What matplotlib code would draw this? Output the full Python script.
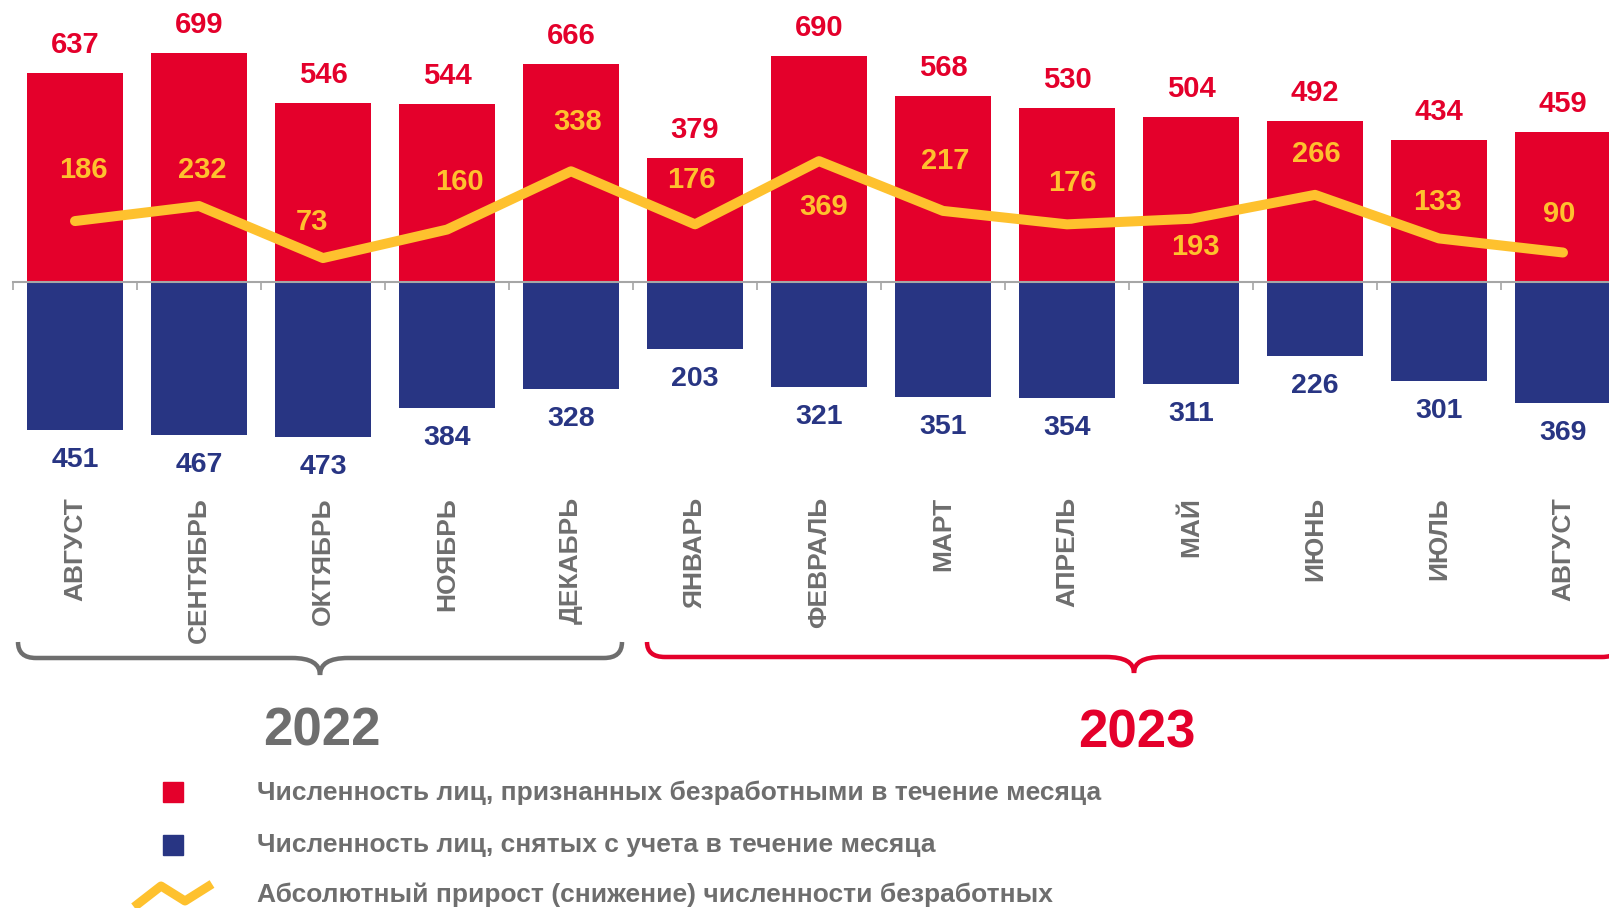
import numpy as np
from matplotlib import pyplot as plt
from matplotlib.path import Path
from matplotlib.patches import PathPatch, Rectangle

plt.rcParams['font.family'] = ['Liberation Sans', 'DejaVu Sans']
plt.rcParams['font.weight'] = 'bold'

# данные
months = ['АВГУСТ', 'СЕНТЯБРЬ', 'ОКТЯБРЬ', 'НОЯБРЬ', 'ДЕКАБРЬ', 'ЯНВАРЬ', 'ФЕВРАЛЬ',
          'МАРТ', 'АПРЕЛЬ', 'МАЙ', 'ИЮНЬ', 'ИЮЛЬ', 'АВГУСТ']
recognized = [637, 699, 546, 544, 666, 379, 690, 568, 530, 504, 492, 434, 459]
removed = [451, 467, 473, 384, 328, 203, 321, 351, 354, 311, 226, 301, 369]
growth = [186, 232, 73, 160, 338, 176, 369, 217, 176, 193, 266, 133, 90]

# смещения подписей прироста (пиксели)
growth_offsets = [(8, 51), (3, 36), (-11, 36), (12, 48), (7, 49), (-4, 44), (5, -46),
                  (2, 50), (5, 41), (4, -28), (1, 41), (-2, 36), (-4, 39)]

RED = '#E4002B'
BLUE = '#283583'
YELLOW = '#FEC12E'
GRAY = '#6E6E6E'

W, H, DPI = 1609, 908, 100
PX = 72 / DPI  # пиксели -> пункты

fig = plt.figure(figsize=(W / DPI, H / DPI), dpi=DPI)

# основная область
x0_px, zero_px, step_px, scale = 13, 282, 124, 0.3276
ax = fig.add_axes([x0_px / W, 0, 1 - x0_px / W, 1])
ax.set_xlim(-0.5, -0.5 + (W - x0_px) / step_px)
ax.set_ylim(-(H - zero_px) / scale, zero_px / scale)

x = np.arange(len(months))
ax.bar(x, recognized, width=0.77, color=RED, zorder=2)
ax.bar(x, [-v for v in removed], width=0.77, color=BLUE, zorder=2)
ax.plot(x, growth, color=YELLOW, lw=10 * PX, solid_capstyle='round', zorder=3)

for i in range(len(months)):
    ax.annotate(str(recognized[i]), (x[i], recognized[i]), xytext=(0, 28 * PX),
                textcoords='offset points', ha='center', va='center',
                color=RED, fontsize=21, fontweight='bold')
    ax.annotate(str(removed[i]), (x[i], -removed[i]), xytext=(0, -30 * PX),
                textcoords='offset points', ha='center', va='center',
                color=BLUE, fontsize=20.5, fontweight='bold')
    dx, dy = growth_offsets[i]
    ax.annotate(str(growth[i]), (x[i], growth[i]), xytext=(dx * PX, dy * PX),
                textcoords='offset points', ha='center', va='center',
                color=YELLOW, fontsize=21, fontweight='bold', zorder=4)

for s in ['top', 'left', 'right']:
    ax.spines[s].set_visible(False)
ax.spines['bottom'].set_position(('data', 0))
ax.spines['bottom'].set_color('#A6A6A6')
ax.spines['bottom'].set_linewidth(1.5)
ax.set_yticks([])
ax.set_xticks(x)
ax.set_xticklabels(months, rotation=90, color=GRAY, fontsize=19, fontweight='bold')
ax.set_xticks(np.arange(-0.5, len(months), 1), minor=True)
ax.tick_params(axis='x', which='major', length=0, pad=(497 - zero_px) * PX)
ax.tick_params(axis='x', which='minor', length=8 * PX, width=1.2, color='#A6A6A6')
ax.set_xlim(-0.5, -0.5 + (W - x0_px) / step_px)
ax.patch.set_visible(False)

# слой для скобок и легенды (координаты в пикселях)
ov = fig.add_axes([0, 0, 1, 1], zorder=-1)
ov.set_xlim(0, W)
ov.set_ylim(H, 0)
ov.axis('off')


def brace(xl, xr, xt, ytop, ymid, ytip, color, r=18, rt=28):
    verts = [(xl, ytop), (xl, ymid), (xl + r, ymid),
             (xt - rt, ymid), (xt, ymid), (xt, ytip),
             (xt, ymid), (xt + rt, ymid),
             (xr - r, ymid), (xr, ymid), (xr, ytop)]
    codes = [Path.MOVETO, Path.CURVE3, Path.CURVE3,
             Path.LINETO, Path.CURVE3, Path.CURVE3,
             Path.CURVE3, Path.CURVE3,
             Path.LINETO, Path.CURVE3, Path.CURVE3]
    ov.add_patch(PathPatch(Path(verts, codes), fill=False, edgecolor=color,
                           lw=4.5 * PX, capstyle='butt'))


brace(18, 622, 320, 642, 658, 675, GRAY)
brace(647, 1620, 1134, 642, 657, 673, RED)

fig.text(322 / W, 1 - 732 / H, '2022', ha='center', va='center',
         color=GRAY, fontsize=38, fontweight='bold')
fig.text(1137 / W, 1 - 734 / H, '2023', ha='center', va='center',
         color=RED, fontsize=38, fontweight='bold')

# легенда
ov.add_patch(Rectangle((163, 782), 20, 20, color=RED))
ov.add_patch(Rectangle((163, 835), 20, 20, color=BLUE))
ov.plot([134, 161, 185, 212], [907, 886, 901, 884], color=YELLOW, lw=9 * PX,
        solid_capstyle='butt')
legend_labels = ['Численность лиц, признанных безработными в течение месяца',
                 'Численность лиц, снятых с учета в течение месяца',
                 'Абсолютный прирост (снижение) численности безработных']
for lbl, yy in zip(legend_labels, [793, 845, 895]):
    ov.text(257, yy, lbl, ha='left', va='center', color=GRAY,
            fontsize=19, fontweight='bold')

fig.savefig('out.png', dpi=DPI)
